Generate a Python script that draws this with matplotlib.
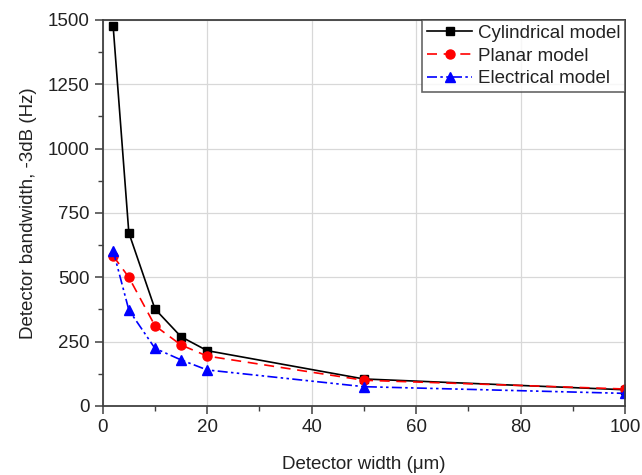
import matplotlib
matplotlib.use("Agg")
import matplotlib.pyplot as plt
from matplotlib.ticker import MultipleLocator

width = [2, 5, 10, 15, 20, 50, 100]
cylindrical = [1475, 673, 377, 269, 215, 105, 63]
planar = [583, 500, 312, 237, 194, 100, 66]
electrical = [604, 373, 224, 179, 140, 75, 49]

plt.rcParams['font.family'] = ['Liberation Sans', 'DejaVu Sans']

fig = plt.figure(figsize=(6.42, 4.75), dpi=100)
ax = fig.add_axes([0.160, 0.1453, 0.8135, 0.8127])

ax.plot(width, cylindrical, color='black', lw=1.2, marker='s', ms=6,
        label='Cylindrical model', clip_on=True)
ax.plot(width, planar, color='red', lw=1.2, marker='o', ms=6.5,
        dashes=(6, 4), label='Planar model', clip_on=True)
ax.plot(width, electrical, color='blue', lw=1.2, marker='^', ms=7,
        dashes=(6, 2, 1.5, 2, 1.5, 2), label='Electrical model', clip_on=True)

ax.set_xlim(0, 100)
ax.set_ylim(0, 1500)
ax.xaxis.set_major_locator(MultipleLocator(20))
ax.xaxis.set_minor_locator(MultipleLocator(10))
ax.yaxis.set_major_locator(MultipleLocator(250))
ax.yaxis.set_minor_locator(MultipleLocator(125))
ax.grid(True, which='major', color='#d8d8d8', lw=0.9)
ax.set_axisbelow(True)

for s in ax.spines.values():
    s.set_color('#404040')
    s.set_linewidth(1.3)

fs = 13.5
ax.tick_params(which='both', direction='out', color='#404040', labelsize=fs,
               labelcolor='#222222')
ax.tick_params(which='major', length=6, width=1.1)
ax.tick_params(which='minor', length=3.5, width=1.0)

ax.set_xlabel('Detector width (\u03bcm)', fontsize=fs, color='#222222', labelpad=14)
ax.set_ylabel('Detector bandwidth, -3dB (Hz)', fontsize=fs, color='#222222', labelpad=8)

leg = ax.legend(loc='upper right', fontsize=fs, frameon=True, fancybox=False,
                borderaxespad=0, handlelength=2.4, handletextpad=0.3,
                labelspacing=0.3, borderpad=0.25)
leg.get_frame().set_edgecolor('#404040')
leg.get_frame().set_linewidth(1.2)
for t in leg.get_texts():
    t.set_color('#222222')

fig.savefig('out.png', dpi=100)
